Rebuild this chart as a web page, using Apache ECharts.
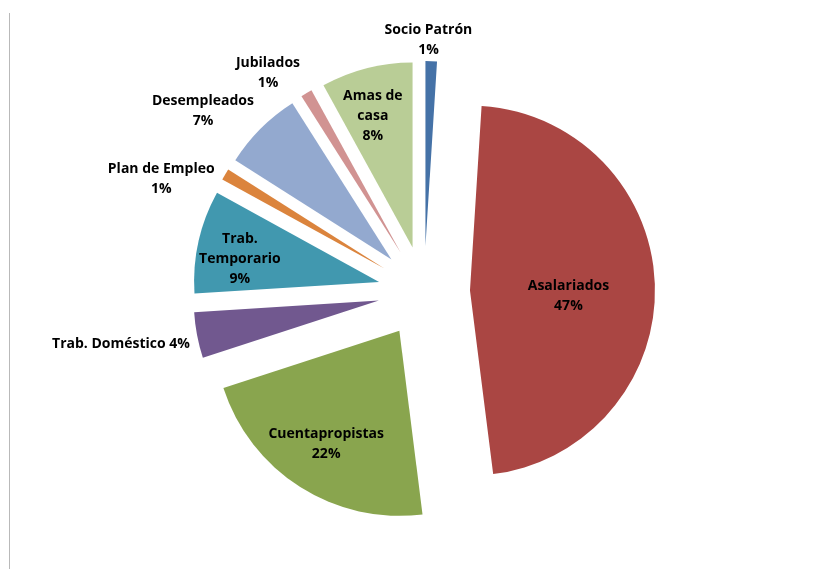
<!DOCTYPE html>
<html>
<head>
<meta charset="utf-8">
<script src="https://cdn.jsdelivr.net/npm/echarts@6/dist/echarts.min.js"></script>
<style>
html, body { margin: 0; padding: 0; background: #fff; }
#main { width: 824px; height: 569px; }
#edge { position: absolute; left: 9px; top: 13px; width: 1px; height: 556px; background: #b9b9b9; }
</style>
</head>
<body>
<div id="edge"></div>
<div id="main"></div>
<script>
// categorias y porcentajes (en orden horario desde arriba)
var categories = ['Socio Patrón', 'Asalariados', 'Cuentapropistas', 'Trab. Doméstico',
    'Trab. Temporario', 'Plan de Empleo', 'Desempleados', 'Jubilados', 'Amas de casa'];
var values = [1, 47, 22, 4, 9, 1, 7, 1, 8];
var labelNames = ['Socio Patrón', 'Asalariados', 'Cuentapropistas', 'Trab. Doméstico',
    'Trab.\nTemporario', 'Plan de Empleo', 'Desempleados', 'Jubilados', 'Amas de\ncasa'];

var colors = ['#4572A7', '#AA4643', '#89A54E', '#71588F', '#4198AF',
    '#DB843D', '#93A9CF', '#D19392', '#B9CD96'];
// desplazamiento de cada etiqueta respecto a su posicion interior
var labelShift = [[0, -111], [3, 8], [-22, 33], [-164, 26], [-46, -2],
    [-141, -41], [-121, -81], [-84, -97], [-16, -39]];

var chart = echarts.init(document.getElementById('main'));

var data = categories.map(function (c, i) {
    return {
        name: c,
        value: values[i],
        selected: true,
        itemStyle: { color: colors[i] }
    };
});

var option = {
    animation: false,
    series: [{
        type: 'pie',
        center: [424, 292],
        radius: [0, 185],
        startAngle: 90,
        clockwise: true,
        selectedMode: 'multiple',
        selectedOffset: 46,
        percentPrecision: 0,
        avoidLabelOverlap: false,
        emphasis: { disabled: true },
        itemStyle: { borderWidth: 0 },
        label: {
            show: true,
            position: 'inside',
            fontFamily: 'Open Sans',
            fontWeight: 'bold',
            fontSize: 14,
            lineHeight: 20,
            color: '#000',
            align: 'center',
            formatter: function (p) {
                var name = labelNames[p.dataIndex];
                if (p.dataIndex === 3) return name + ' ' + p.percent + '%';
                return name + '\n' + p.percent + '%';
            }
        },
        labelLine: { show: false },
        labelLayout: function (p) {
            var s = labelShift[p.dataIndex];
            return { dx: s[0], dy: s[1] };
        },
        data: data
    }]
};

chart.setOption(option);
</script>
</body>
</html>
